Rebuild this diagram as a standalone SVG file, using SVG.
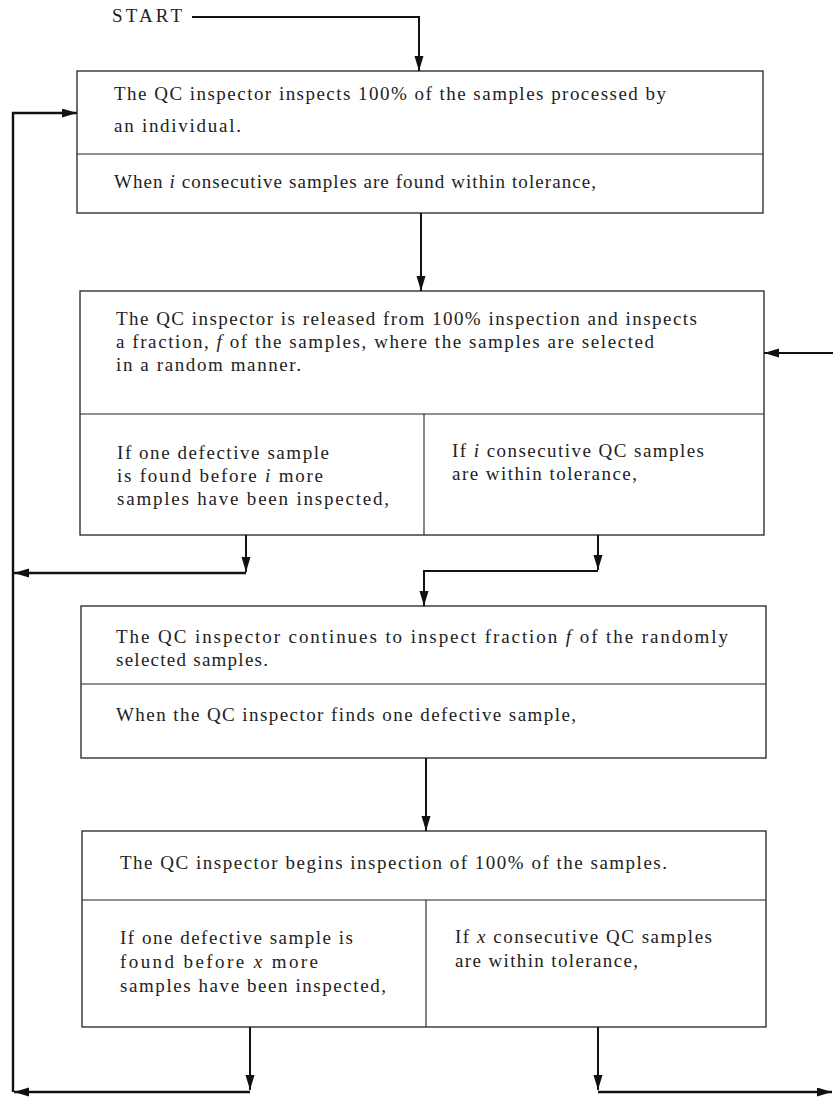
<svg xmlns="http://www.w3.org/2000/svg" width="833" height="1099" viewBox="0 0 833 1099">
<style>
.box{fill:#fff;stroke:#222;stroke-width:1.3}
.div{stroke:#222;stroke-width:1.1;fill:none}
.t{font-family:"Liberation Serif","Times New Roman",serif;font-size:19px;fill:#222}
.c{fill:none;stroke:#111;stroke-width:2}
.loop{fill:none;stroke:#111;stroke-width:2.4}
</style>
<defs>
<marker id="ah" markerUnits="userSpaceOnUse" markerWidth="16" markerHeight="10" refX="15" refY="4.5" orient="auto">
<path d="M0,0 L15,4.5 L0,9 z" fill="#111"/>
</marker>
</defs>
<rect width="833" height="1099" fill="#fff"/>
<g id="start">
<text class="t" x="112" y="22" textLength="70" lengthAdjust="spacing">START</text>
</g>
<g id="box1">
<rect class="box" x="77" y="71" width="686" height="142"/>
<line class="div" x1="77" y1="154" x2="763" y2="154"/>
<text class="t" x="114" y="100" textLength="552" lengthAdjust="spacing">The QC inspector inspects 100% of the samples processed by</text>
<text class="t" x="114" y="132" textLength="127" lengthAdjust="spacing">an individual.</text>
<text class="t" x="114" y="188" textLength="482" lengthAdjust="spacing">When <tspan font-style="italic">i</tspan> consecutive samples are found within tolerance,</text>
</g>
<g id="box2">
<rect class="box" x="80" y="291" width="684" height="244"/>
<line class="div" x1="80" y1="414" x2="764" y2="414"/>
<line class="div" x1="424" y1="414" x2="424" y2="535"/>
<text class="t" x="116" y="325" textLength="581" lengthAdjust="spacing">The QC inspector is released from 100% inspection and inspects</text>
<text class="t" x="116" y="348" textLength="538" lengthAdjust="spacing">a fraction, <tspan font-style="italic">f</tspan> of the samples, where the samples are selected</text>
<text class="t" x="116" y="371" textLength="185" lengthAdjust="spacing">in a random manner.</text>
<text class="t" x="117" y="459" textLength="212" lengthAdjust="spacing">If one defective sample</text>
<text class="t" x="117" y="482" textLength="206" lengthAdjust="spacing">is found before <tspan font-style="italic">i</tspan>  more</text>
<text class="t" x="117" y="505" textLength="272" lengthAdjust="spacing">samples have been inspected,</text>
<text class="t" x="452" y="457" textLength="252" lengthAdjust="spacing">If <tspan font-style="italic">i</tspan> consecutive QC samples</text>
<text class="t" x="452" y="480" textLength="185" lengthAdjust="spacing">are within tolerance,</text>
</g>
<g id="box3">
<rect class="box" x="81" y="606" width="685" height="152"/>
<line class="div" x1="81" y1="684" x2="766" y2="684"/>
<text class="t" x="116" y="643" textLength="612" lengthAdjust="spacing">The QC inspector continues to inspect fraction <tspan font-style="italic">f</tspan> of the randomly</text>
<text class="t" x="116" y="666" textLength="152" lengthAdjust="spacing">selected samples.</text>
<text class="t" x="116" y="721" textLength="460" lengthAdjust="spacing">When the QC inspector finds one defective sample,</text>
</g>
<g id="box4">
<rect class="box" x="82" y="831" width="684" height="196"/>
<line class="div" x1="82" y1="900" x2="766" y2="900"/>
<line class="div" x1="426" y1="900" x2="426" y2="1027"/>
<text class="t" x="120" y="869" textLength="547" lengthAdjust="spacing">The QC inspector begins inspection of 100% of the samples.</text>
<text class="t" x="120" y="944" textLength="233" lengthAdjust="spacing">If one defective sample is</text>
<text class="t" x="120" y="968" textLength="198" lengthAdjust="spacing">found before <tspan font-style="italic">x</tspan>  more</text>
<text class="t" x="120" y="992" textLength="266" lengthAdjust="spacing">samples have been inspected,</text>
<text class="t" x="455" y="943" textLength="257" lengthAdjust="spacing">If <tspan font-style="italic">x</tspan> consecutive QC samples</text>
<text class="t" x="455" y="967" textLength="183" lengthAdjust="spacing">are within tolerance,</text>
</g>
<g id="connectors">
<path class="c" d="M192,17 H419 V71" marker-end="url(#ah)"/>
<path class="c" d="M421,213 V291" marker-end="url(#ah)"/>
<path class="loop" d="M13,1092 V113 H77" marker-end="url(#ah)"/>
<path class="c" d="M246,535 V572" marker-end="url(#ah)"/>
<path class="loop" d="M246,573 H14" marker-end="url(#ah)"/>
<path class="c" d="M598,535 V570" marker-end="url(#ah)"/>
<path class="c" d="M598,571 H424 V606" marker-end="url(#ah)"/>
<path class="c" d="M833,353 H764" marker-end="url(#ah)"/>
<path class="c" d="M426,758 V831" marker-end="url(#ah)"/>
<path class="c" d="M250,1027 V1090" marker-end="url(#ah)"/>
<path class="loop" d="M250,1092 H14" marker-end="url(#ah)"/>
<path class="c" d="M598,1027 V1090" marker-end="url(#ah)"/>
<path class="loop" d="M598,1092 H832" marker-end="url(#ah)"/>
</g>
</svg>
